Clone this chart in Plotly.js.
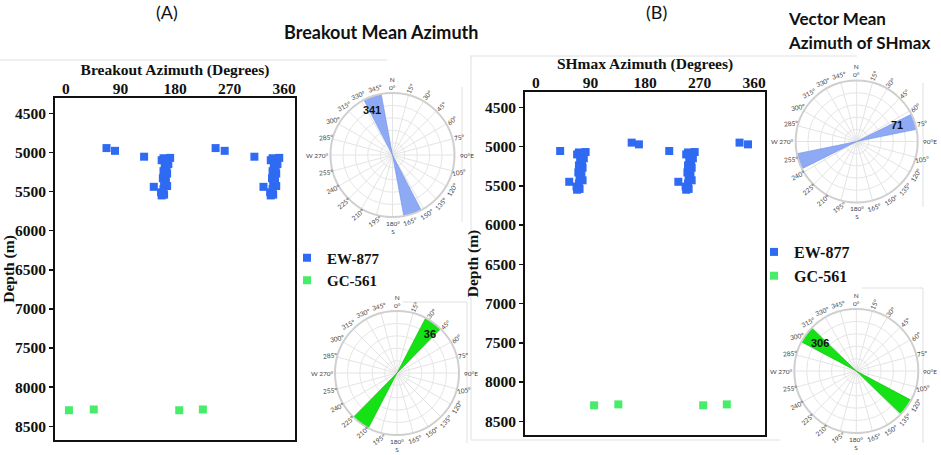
<!DOCTYPE html>
<html>
<head>
<meta charset="utf-8">
<script src="https://cdn.plot.ly/plotly-3.0.1.min.js"></script>
<style>html,body{margin:0;padding:0;background:#fff;}#chart{width:941px;height:455px;}</style>
</head>
<body>
<div id="chart"></div>
<script>
// ---------------- DATA ----------------
// (A) Breakout azimuth vs depth
const ewBreakoutAz = [67, 81, 129, 145, 247, 262, 311, 326,
  161, 172, 158, 164, 169, 163, 166, 161, 167, 163, 160, 165, 162, 167, 161, 157, 162, 158,
  341, 352, 338, 344, 349, 343, 346, 341, 347, 343, 340, 345, 342, 347, 341, 337, 342, 338];
const ewBreakoutDepth = [4945, 4980, 5055, 5440, 4945, 4980, 5055, 5440,
  5075, 5070, 5100, 5110, 5150, 5180, 5210, 5240, 5270, 5300, 5330, 5360, 5400, 5430, 5470, 5510, 5540, 5550,
  5075, 5070, 5100, 5110, 5150, 5180, 5210, 5240, 5270, 5300, 5330, 5360, 5400, 5430, 5470, 5510, 5540, 5550];
const gcBreakoutAz = [5, 46, 187, 226];
const gcBreakoutDepth = [8295, 8285, 8295, 8285];

// (B) SHmax azimuth vs depth
const ewShmaxAz = [40, 158, 170, 220, 336, 350, 55, 235,
  71, 82, 68, 74, 79, 73, 76, 71, 77, 73, 70, 75, 72, 77, 71, 67, 72, 68,
  251, 262, 248, 254, 259, 253, 256, 251, 257, 253, 250, 255, 252, 257, 251, 247, 252, 248];
const ewShmaxDepth = [5057, 4950, 4972, 5057, 4950, 4972, 5449, 5449,
  5075, 5070, 5100, 5110, 5150, 5180, 5210, 5240, 5270, 5300, 5330, 5360, 5400, 5430, 5470, 5510, 5540, 5550,
  5075, 5070, 5100, 5110, 5150, 5180, 5210, 5240, 5270, 5300, 5330, 5360, 5400, 5430, 5470, 5510, 5540, 5550];
const gcShmaxAz = [96, 136, 276, 315];
const gcShmaxDepth = [8297, 8285, 8297, 8285];

// tick labels
const azTicks = [0, 90, 180, 270, 360];
const depthTicks = [4500, 5000, 5500, 6000, 6500, 7000, 7500, 8000, 8500];
const compassTicks = [0,15,30,45,60,75,90,105,120,135,150,165,180,195,210,225,240,255,270,285,300,315,330,345];

// rose diagrams (mean azimuth, bidirectional)
const roseBreakoutEW = [341, 161];
const roseBreakoutGC = [36, 216];
const roseShmaxEW = [71, 251];
const roseShmaxGC = [306, 126];
const roseLength = [1, 1];
const roseMeanLabels = ['341', '36', '71', '306'];

// ---------------- LAYOUT HELPERS ----------------
const W = 941, H = 455;
const fx = px => px / W;
const fy = py => 1 - py / H;

const BLUE = '#2f6af2', GREEN = '#47ec6b';
const ROSE_BLUE = '#8eaaf5', ROSE_GREEN = '#14e214';

const serifBold = (size) => ({family: 'Liberation Serif', size: size, color: '#111', weight: 'bold'});

const polarDomains = {
  polar:  {x: [fx(330.5), fx(454.5)], y: [fy(217), fy(93)]},
  polar2: {x: [fx(335), fx(459)],     y: [fy(435), fy(311)]},
  polar3: {x: [fx(795.7), fx(917.7)], y: [fy(202.5), fy(80.5)]},
  polar4: {x: [fx(794.3), fx(918.3)], y: [fy(433), fy(309)]}
};
const labelTheta = [335, 41, 69, 307];
const labelR = [0.78, 0.81, 0.71, 0.73];
const compassRot = [0,-65,-50,-45,-40,-10,0,-10,-60,-50,-35,-20,0,-35,-40,-40,-25,-5,0,-5,-12,-28,-22,-15];

function polarLayout(dom) {
  return {
    domain: dom,
    bgcolor: 'rgba(0,0,0,0)',
    angularaxis: {rotation: 90, direction: 'clockwise', tickvals: compassTicks, showticklabels: false,
      ticks: '', showgrid: true, gridcolor: '#e4e4e4', gridwidth: 1, showline: true, linecolor: '#cfcfcf', linewidth: 2},
    radialaxis: {range: [0, 1], tickvals: [0.2, 0.4, 0.6, 0.8], showticklabels: false, ticks: '',
      showline: false, showgrid: true, gridcolor: '#e6e6e6'}
  };
}

function compassAnnotations(dom) {
  const x0 = dom.x[0] * W, x1 = dom.x[1] * W;
  const yTop = (1 - dom.y[1]) * H, yBot = (1 - dom.y[0]) * H;
  const cx = (x0 + x1) / 2, cy = (yTop + yBot) / 2;
  const R = Math.min(x1 - x0, yBot - yTop) / 2;
  return compassTicks.map((t, i) => {
    let text = t + '°', d = 7;
    if (t === 0) { text = 'N<br>0°'; d = 10; }
    else if (t === 90) { text = '90°E'; d = 12; }
    else if (t === 180) { text = '180°<br>S'; d = 10; }
    else if (t === 270) { text = 'W 270°'; d = 13; }
    const a = t * Math.PI / 180;
    const px = cx + (R + d) * Math.sin(a), py = cy - (R + d) * Math.cos(a);
    return {xref: 'paper', yref: 'paper', x: fx(px), y: fy(py), text: text, showarrow: false,
      xanchor: 'center', yanchor: 'middle', textangle: compassRot[i],
      font: {family: 'Lato', size: 6.5, color: '#444'}};
  });
}

// ---------------- TRACES ----------------
const sq = (c) => ({symbol: 'square', size: 8, color: c});
const traces = [
  {type: 'scatter', mode: 'markers', name: 'EW-877', x: ewBreakoutAz, y: ewBreakoutDepth, xaxis: 'x', yaxis: 'y', marker: sq(BLUE), legend: 'legend'},
  {type: 'scatter', mode: 'markers', name: 'GC-561', x: gcBreakoutAz, y: gcBreakoutDepth, xaxis: 'x', yaxis: 'y', marker: sq(GREEN), legend: 'legend'},
  {type: 'scatter', mode: 'markers', name: 'EW-877', x: ewShmaxAz, y: ewShmaxDepth, xaxis: 'x2', yaxis: 'y2', marker: sq(BLUE), legend: 'legend2'},
  {type: 'scatter', mode: 'markers', name: 'GC-561', x: gcShmaxAz, y: gcShmaxDepth, xaxis: 'x2', yaxis: 'y2', marker: sq(GREEN), legend: 'legend2'}
];
const roses = [
  ['polar', roseBreakoutEW, ROSE_BLUE, '#6f8fe6', 17],
  ['polar2', roseBreakoutGC, ROSE_GREEN, '#10b810', 17],
  ['polar3', roseShmaxEW, ROSE_BLUE, '#6f8fe6', 15],
  ['polar4', roseShmaxGC, ROSE_GREEN, '#10b810', 16]
];
roses.forEach((r, i) => {
  traces.push({type: 'barpolar', subplot: r[0], r: roseLength, theta: r[1], width: [r[4], r[4]],
    marker: {color: r[2], line: {color: r[3], width: 0.6}}, showlegend: false, hoverinfo: 'skip'});
  traces.push({type: 'scatterpolar', subplot: r[0], mode: 'text', r: [labelR[i]], theta: [labelTheta[i]],
    text: [roseMeanLabels[i]], textfont: {family: 'Liberation Sans', size: 11, color: '#111', weight: 'bold'},
    showlegend: false, hoverinfo: 'skip'});
});

// ---------------- AXES ----------------
function xAxis(domain, anchor, title) {
  return {domain: domain, anchor: anchor, side: 'top', range: [-18, 378], tickvals: azTicks, ticks: '',
    ticklabelstandoff: -4,
    showline: true, mirror: true, linecolor: '#111', linewidth: 2, showgrid: false, zeroline: false,
    tickfont: serifBold(15.5), title: {text: title, font: serifBold(15.5), standoff: 0}, automargin: false, fixedrange: true};
}
function yAxis(domain, anchor) {
  return {domain: domain, anchor: anchor, range: [8675, 4305], tickvals: depthTicks, ticks: 'outside', ticklen: 4,
    tickwidth: 1.5, tickcolor: '#111', showline: true, mirror: true, linecolor: '#111', linewidth: 2,
    showgrid: false, zeroline: false, tickfont: serifBold(15.5),
    title: {text: 'Depth (m)', font: serifBold(15.5), standoff: 2}, automargin: false, fixedrange: true};
}

const gray = '#e0e0e0';
const ln = (x0, y0, x1, y1) => ({type: 'line', xref: 'paper', yref: 'paper', x0: fx(x0), y0: fy(y0), x1: fx(x1), y1: fy(y1), line: {color: gray, width: 1}, layer: 'below'});

const titleFont = (size, weight) => ({family: 'Lato', size: size, color: '#111', weight: weight});

let annotations = [
  {xref: 'paper', yref: 'paper', x: fx(166.7), y: fy(12), text: '(A)', showarrow: false, xanchor: 'center', yanchor: 'middle', font: titleFont(18, 'normal')},
  {xref: 'paper', yref: 'paper', x: fx(656), y: fy(12), text: '(B)', showarrow: false, xanchor: 'center', yanchor: 'middle', font: titleFont(18, 'normal')},
  {xref: 'paper', yref: 'paper', x: fx(282), y: fy(32), text: 'Breakout Mean Azimuth', showarrow: false, xanchor: 'left', yanchor: 'middle', font: titleFont(18, 'bold')},
  {xref: 'paper', yref: 'paper', x: fx(786), y: fy(19), text: 'Vector Mean', showarrow: false, xanchor: 'left', yanchor: 'middle', font: titleFont(17, 'bold')},
  {xref: 'paper', yref: 'paper', x: fx(786), y: fy(42), text: 'Azimuth of SHmax', showarrow: false, xanchor: 'left', yanchor: 'middle', font: titleFont(17, 'bold')}
];
Object.keys(polarDomains).forEach(k => { annotations = annotations.concat(compassAnnotations(polarDomains[k])); });

const layout = {
  width: W, height: H,
  margin: {l: 0, r: 0, t: 0, b: 0},
  paper_bgcolor: '#fff', plot_bgcolor: 'rgba(0,0,0,0)',
  showlegend: true,
  xaxis: xAxis([fx(55), fx(295)], 'y', 'Breakout Azimuth (Degrees)'),
  yaxis: yAxis([fy(440), fy(98)], 'x'),
  xaxis2: xAxis([fx(525), fx(765)], 'y2', 'SHmax Azimuth (Degrees)'),
  yaxis2: yAxis([fy(435), fy(92)], 'x2'),
  polar: polarLayout(polarDomains.polar),
  polar2: polarLayout(polarDomains.polar2),
  polar3: polarLayout(polarDomains.polar3),
  polar4: polarLayout(polarDomains.polar4),
  legend: {x: fx(287), y: fy(269), xanchor: 'left', yanchor: 'middle', bgcolor: 'rgba(0,0,0,0)', font: serifBold(15), itemwidth: 30, tracegroupgap: 0},
  legend2: {x: fx(754), y: fy(264), xanchor: 'left', yanchor: 'middle', bgcolor: 'rgba(0,0,0,0)', font: serifBold(16), itemwidth: 30, tracegroupgap: 0},
  annotations: annotations,
  shapes: [
    ln(0, 60, 387, 60),
    ln(462, 87, 462, 222),
    ln(403, 302, 467, 302), ln(467, 302, 467, 443),
    ln(470, 56, 857, 56), ln(471, 56, 471, 440), ln(471, 440, 780, 440),
    ln(923, 83, 923, 207),
    ln(862, 288, 923, 288), ln(923, 288, 923, 443)
  ]
};

Plotly.newPlot('chart', traces, layout, {displayModeBar: false, staticPlot: true});
</script>
</body>
</html>
